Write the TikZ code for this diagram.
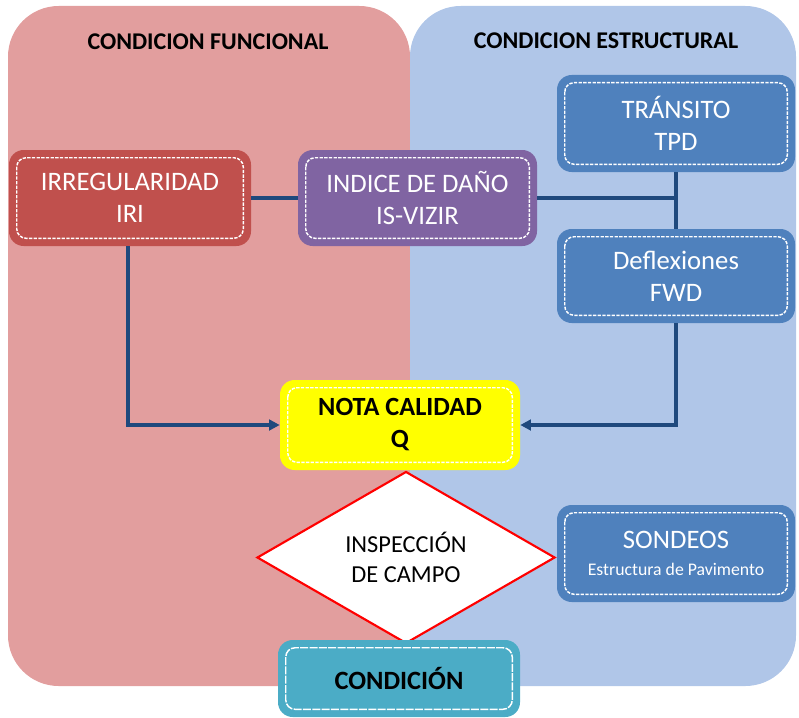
\documentclass[tikz,border=0pt]{standalone}
\usepackage{fontspec}
\setmainfont{Carlito}
\usetikzlibrary{shapes.geometric,arrows.meta}
\definecolor{redbox}{HTML}{C0504D}
\definecolor{purplebox}{HTML}{8064A2}
\definecolor{bluebox}{HTML}{4F81BD}
\definecolor{tealbox}{HTML}{4BACC6}
\definecolor{yellowbox}{HTML}{FFFF00}
\definecolor{linkblue}{HTML}{1F497D}
\definecolor{redpanel}{RGB}{226,158,158}
\definecolor{bluepanel}{RGB}{176,198,232}
\newcommand\boxinner[2][white]{\draw[innerline,#1] ([shift={(8,8)}]#2.north west) rectangle ([shift={(-8,-8)}]#2.south east);}
\tikzset{
  panel/.style={rounded corners=38pt},
  box/.style={rounded corners=11pt, inner sep=0pt, align=center, text=white,
    font=\fontsize{20}{24}\selectfont},
  innerline/.style={rounded corners=7pt, line width=1.1pt, dash pattern=on 2.5pt off 1pt},
  titletext/.style={font=\fontsize{18}{22}\selectfont\bfseries, text=black},
  link/.style={draw=linkblue, line width=2.5pt},
  arrowlink/.style={link, -{Triangle[length=8pt,width=8pt]}},
}
\begin{document}
\begin{tikzpicture}[x=0.75pt,y=-0.75pt]
\useasboundingbox (0,0) rectangle (799,717);
% panels
\fill[redpanel, panel] (8,6) rectangle (410,686);
\fill[bluepanel, panel] (410,6) rectangle (796,686);
\node[titletext] (tf) at (208,42) {CONDICION FUNCIONAL};
\node[titletext] (te) at (606,41) {CONDICION ESTRUCTURAL};
% boxes
\node[box, fill=redbox, minimum width=181.5pt, minimum height=72pt] (iri) at (130,198) {IRREGULARIDAD\\IRI};
\node[box, fill=purplebox, minimum width=179.25pt, minimum height=72pt] (isv) at (417.5,198) {INDICE DE DAÑO\\IS-VIZIR};
\node[box, fill=bluebox, minimum width=178.5pt, minimum height=72.75pt] (tpd) at (676,123.5) {TRÁNSITO\\TPD};
\node[box, fill=bluebox, minimum width=178.5pt, minimum height=70.5pt] (fwd) at (676,276) {Deflexiones\\FWD};
\node[box, fill=yellowbox, text=black, font=\fontsize{19.7}{24}\selectfont\bfseries, minimum width=180pt, minimum height=67.5pt] (nota) at (400,425) {NOTA CALIDAD\\Q};
\node[diamond, draw=red, fill=white, line width=1.6pt, inner sep=0pt, minimum width=223.5pt, minimum height=119.25pt, align=center, font=\fontsize{18.3}{22.5}\selectfont] (insp) at (406,557.5) {INSPECCIÓN\\DE CAMPO};
\node[box, fill=bluebox, minimum width=178.5pt, minimum height=72.75pt] (sond) at (676,553.5) {SONDEOS\\[-4pt]{\fontsize{13.3}{15}\selectfont Estructura de Pavimento}};
\node[box, fill=tealbox, text=black, font=\fontsize{19.8}{24}\selectfont\bfseries, minimum width=181.5pt, minimum height=57.75pt] (cond) at (399,678.5) {CONDICIÓN};
\boxinner{iri}
\boxinner{isv}
\boxinner{tpd}
\boxinner{fwd}
\boxinner{nota}
\boxinner{sond}
\boxinner[white, dash pattern=on 6pt off 1pt]{cond}
% connectors
\coordinate (jn) at (tpd.south |- isv.east);
\draw[link, line width=3.5pt] (iri.east) -- (isv.west);
\draw[link] (isv.east) -- (jn);
\draw[link] (tpd.south) -- (fwd.north);
\draw[arrowlink] ([xshift=-1.5pt]iri.south) |- (nota.west);
\draw[arrowlink] (fwd.south) |- (nota.east);
\end{tikzpicture}
\end{document}
